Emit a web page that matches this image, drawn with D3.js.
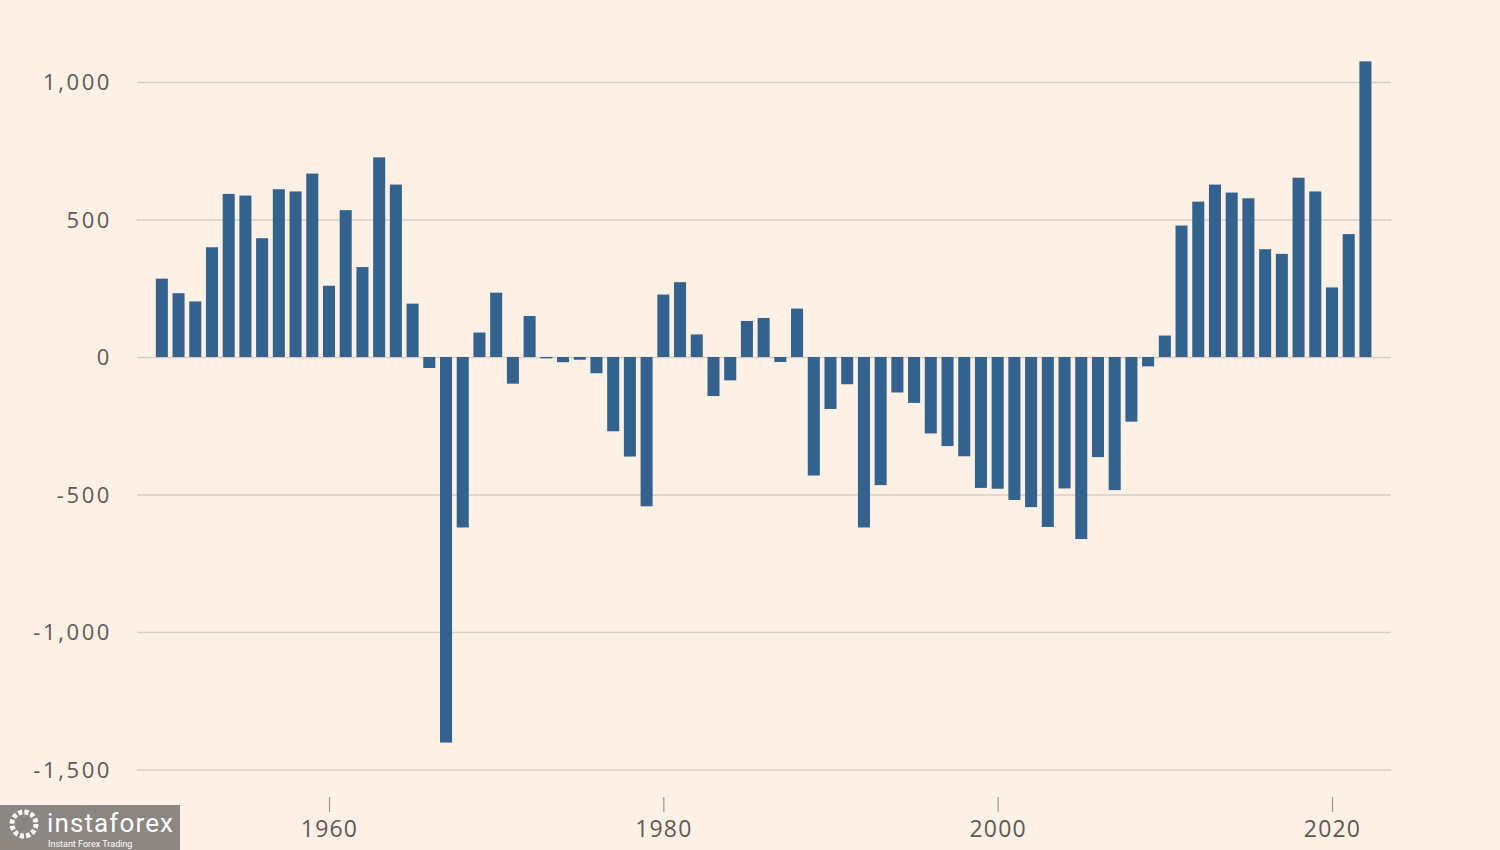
<!DOCTYPE html>
<html>
<head>
<meta charset="utf-8">
<script src="https://d3js.org/d3.v7.min.js"></script>
<style>
  body { margin: 0; background: #fdf0e5; }
  svg { display: block; }
  .tick text { font-family: "Open Sans", sans-serif; fill: #5f5955; }
</style>
</head>
<body>
<svg id="chart" width="1500" height="850"></svg>
<script>
var svg = d3.select("#chart"),
    width = +svg.attr("width"),
    height = +svg.attr("height");

// yearly values 1950-2022
var years = d3.range(1950, 2023);
var values = [
  285, 232, 202, 399, 593, 587, 432, 610, 602, 667,
  259, 534, 327, 726, 627, 194, -40, -1402, -620, 89,
  234, -97, 149, -5, -19, -10, -59, -270, -362, -543,
  227, 272, 82, -142, -85, 131, 142, -18, 176, -431,
  -189, -99, -620, -466, -129, -167, -278, -324, -361, -476,
  -479, -520, -546, -618, -478, -662, -364, -484, -235, -34,
  78, 478, 565, 627, 598, 577, 392, 375, 652, 602,
  253, 447, 1075
];
var yTicks = [1000, 500, 0, -500, -1000, -1500];
var xTicks = [1960, 1980, 2000, 2020];

svg.append("rect").attr("width", width).attr("height", height).attr("fill", "#fdf0e5");

var x = d3.scaleLinear().domain([1960, 2020]).range([329, 1332]);
var y = d3.scaleLinear().domain([0, 1000]).range([357, 82]);
var step = x(1951) - x(1950);
var barW = step * 0.72;

// gridlines + y labels
var yAxis = svg.append("g")
    .attr("transform", "translate(137,0)")
    .call(d3.axisRight(y).tickValues(yTicks).tickSize(1254)
      .tickFormat(function (d) { return d3.format(",")(d).replace("−", "-"); }));
yAxis.select(".domain").remove();
yAxis.selectAll(".tick line").attr("stroke", "#d9cec4").attr("stroke-width", 1.5);
yAxis.selectAll(".tick text")
    .attr("x", -25)
    .attr("text-anchor", "end")
    .attr("font-size", 22)
    .attr("letter-spacing", 2.6)
    .attr("dy", "0.35em");

// bars
svg.append("g")
  .selectAll("rect")
  .data(values)
  .enter().append("rect")
    .attr("x", function (d, i) { return x(years[i]) - barW / 2; })
    .attr("y", function (d) { return y(Math.max(0, d)); })
    .attr("width", barW)
    .attr("height", function (d) { return Math.max(1, Math.abs(y(d) - y(0))); })
    .attr("fill", "#33628f");

// x axis
var xAxis = svg.append("g")
    .attr("transform", "translate(0,797)")
    .call(d3.axisBottom(x).tickValues(xTicks).tickSize(15).tickFormat(d3.format("d")));
xAxis.select(".domain").remove();
xAxis.selectAll(".tick line").attr("stroke", "#a09890").attr("stroke-width", 1.2);
xAxis.selectAll(".tick text")
    .attr("font-size", 23)
    .attr("letter-spacing", 1.2)
    .attr("y", 22)
    .attr("dy", "0.8em");

// watermark
var wm = svg.append("g").attr("transform", "translate(0,805)");
wm.append("rect").attr("width", 180).attr("height", 45).attr("fill", "#8b8682");
wm.append("circle").attr("cx", 24).attr("cy", 19).attr("r", 12)
  .attr("fill", "none").attr("stroke", "#fff").attr("stroke-width", 5).attr("stroke-dasharray", "4 2.3");
wm.append("text").attr("x", 47).attr("y", 27)
  .attr("font-family", "Roboto, sans-serif").attr("font-size", 26).attr("fill", "#fff")
  .attr("textLength", 126).text("instaforex");
wm.append("text").attr("x", 48).attr("y", 42)
  .attr("font-family", "Roboto, sans-serif").attr("font-size", 9).attr("fill", "#fff")
  .text("Instant Forex Trading");
</script>
</body>
</html>
